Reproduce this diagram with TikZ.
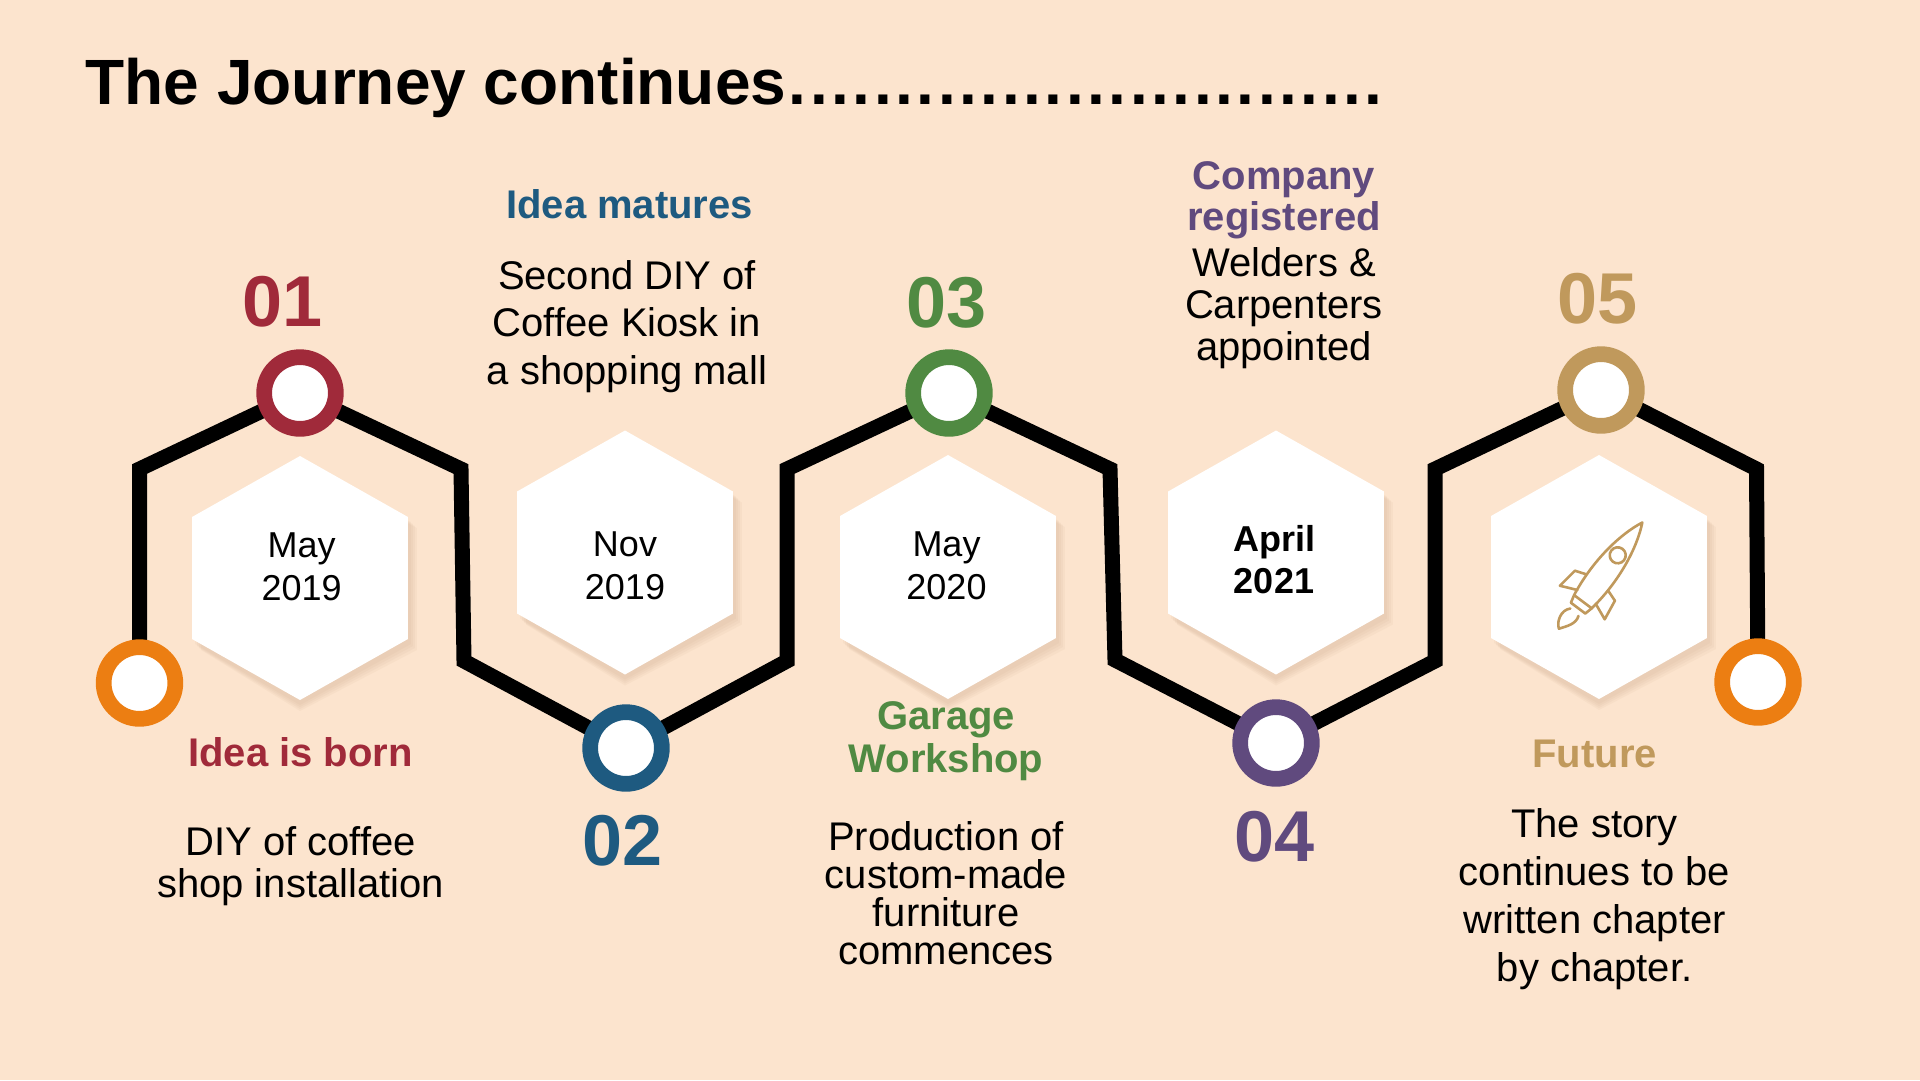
\documentclass[tikz,border=0pt]{standalone}
\usepackage{fontspec}
\setmainfont{Liberation Sans}
\definecolor{bgc}{RGB}{252,228,206}
\definecolor{cred}{RGB}{160,42,58}
\definecolor{cblue}{RGB}{30,90,128}
\definecolor{cgreen}{RGB}{80,138,66}
\definecolor{cpurple}{RGB}{96,74,126}
\definecolor{ctan}{RGB}{192,153,92}
\definecolor{corange}{RGB}{236,126,18}
\definecolor{shadowc}{RGB}{190,150,120}
\newcommand\hexat[3]{(#1,#2-#3) -- (#1+0.885*#3,#2-0.5*#3) -- (#1+0.885*#3,#2+0.5*#3) -- (#1,#2+#3) -- (#1-0.885*#3,#2+0.5*#3) -- (#1-0.885*#3,#2-0.5*#3) -- cycle}
\newcommand\jdot{\makebox[21.33pt][l]{.}}
\begin{document}
\begin{tikzpicture}[x=1pt,y=-1pt,
  ring/.style={circle, draw=#1, fill=white, line width=15.7pt, minimum size=71.7pt, inner sep=0pt},
  num/.style={font=\fontsize{72}{80}\selectfont\bfseries, anchor=base, inner sep=0pt},
  head/.style={font=\fontsize{40}{#1}\selectfont\bfseries, align=center, anchor=base, inner sep=0pt},
  body/.style={font=\fontsize{40}{#1}\selectfont, align=center, anchor=base, inner sep=0pt},
  datetxt/.style={font=\fontsize{36}{43}\selectfont, align=center, anchor=base, inner sep=0pt},
  track/.style={line width=15pt, line join=miter, draw=black}]
\fill[bgc] (0,0) rectangle (1920,1080);
\useasboundingbox (0,0) rectangle (1920,1080);

% title
\node[font=\fontsize{64}{70}\selectfont\bfseries, anchor=base west, inner sep=0pt] (title) at (85.5,104.6)
  {The Journey continues\hspace{2.5pt}\jdot\jdot\jdot\jdot\jdot\jdot\jdot\jdot\jdot\jdot\jdot\jdot\jdot\jdot\jdot\jdot\jdot\jdot\jdot\jdot\jdot\jdot\jdot\jdot\jdot\jdot\jdot\jdot};

% hexagons with soft shadow
\foreach \hx/\hy in {300/578, 625/552.5, 948/577, 1276/552.5, 1599/577}{
  \foreach \s in {9,7,5,3}{
    \fill[shadowc, opacity=0.07] \hexat{\hx}{\hy+2}{122+\s};
  }
  \fill[white] \hexat{\hx}{\hy}{122};
}

% track coordinates
\coordinate (c0) at (139.5,683);
\coordinate (k1) at (139.5,469);
\coordinate (c1) at (300,393);
\coordinate (k2) at (461,469);
\coordinate (k3) at (464,661);
\coordinate (c2) at (626,748);
\coordinate (k4) at (787,661);
\coordinate (k5) at (787,469);
\coordinate (c3) at (949,393);
\coordinate (k6) at (1110,469);
\coordinate (k7) at (1115,660);
\coordinate (c4) at (1276,743);
\coordinate (k8) at (1435,661);
\coordinate (k9) at (1435,469);
\coordinate (c5) at (1601,390);
\coordinate (k10) at (1756.5,469);
\coordinate (c6) at (1758,682);

\draw[track] (c0) -- (k1) -- (c1) -- (k2) -- (k3) -- (c2) -- (k4) -- (k5) -- (c3) -- (k6) -- (k7) -- (c4) -- (k8) -- (k9) -- (c5) -- (k10) -- (c6);

\node[ring=corange] (n0) at (c0) {};
\node[ring=cred] (n1) at (c1) {};
\node[ring=cblue] (n2) at (c2) {};
\node[ring=cgreen] (n3) at (c3) {};
\node[ring=cpurple] (n4) at (c4) {};
\node[ring=ctan] (n5) at (c5) {};
\node[ring=corange] (n6) at (c6) {};

% numbers
\node[num, text=cred] (t01) at (283,326.7) {01};
\node[num, text=cblue] (t02) at (622.7,865) {02};
\node[num, text=cgreen] (t03) at (946.6,327.7) {03};
\node[num, text=cpurple] (t04) at (1274.6,861.7) {04};
\node[num, text=ctan] (t05) at (1597.5,323) {05};

% headings (anchor base = baseline of last line)
\node[head=41.4, text=cred] (h1) at (300.6,766.7) {Idea is born};
\node[head=41.4, text=cblue] (h2) at (629.6,218.3) {Idea matures};
\node[head=43.4, text=cgreen] (h3) at (946,772.7) {Garage\\Workshop};
\node[head=41.4, text=cpurple] (h4) at (1284,230.7) {Company\\registered};
\node[head=41.4, text=ctan] (h5) at (1594.6,767.3) {Future};

% body texts
\node[body=42.3] (b1) at (300.6,897.3) {DIY of coffee\\shop installation};
\node[body=47.5] (b2) at (627,384.3) {Second DIY of\\Coffee Kiosk in\\a shopping mall};
\node[body=38.3] (b3) at (946,964.9) {Production of\\custom-made\\furniture\\commences};
\node[body=41.7] (b4) at (1284,360.1) {Welders \&\\Carpenters\\appointed};
\node[body=48.1] (b5) at (1594.6,981.6) {The story\\continues to be\\written chapter\\by chapter.};

% dates
\node[datetxt] (d1) at (301.7,600.7) {May\\2019};
\node[datetxt] (d2) at (625,599) {Nov\\2019};
\node[datetxt] (d3) at (946.5,599.7) {May\\2020};
\node[datetxt, font=\fontsize{36}{41.6}\selectfont\bfseries] (d4) at (1274,593.3) {April\\2021};

% rocket icon
\begin{scope}[shift={(1581.7,603.3)}, x={(0.8pt,-0.6pt)}, y={(0.6pt,0.8pt)},
    line width=2.6pt, line join=round, line cap=round]
  \draw[ctan, fill=white] (-11,2) .. controls (-17,40) and (-11,78) .. (0,101)
     .. controls (11,78) and (17,40) .. (11,2) -- cycle;
  \draw[ctan] (-11,2) -- (-9,-6) -- (9,-6) -- (11,2);
  \draw[ctan] (0,60) circle (8);
  \draw[ctan] (-13.5,26) -- (-25,22) -- (-28,1) -- (-11.5,8);
  \draw[ctan] (13.5,26) -- (25,22) -- (28,1) -- (11.5,8);
  \draw[ctan] (-6,-11) .. controls (-13,-18) and (-9,-30) .. (-3,-34)
     .. controls (2,-27) and (8,-20) .. (5,-12);
\end{scope}
\end{tikzpicture}
\end{document}
